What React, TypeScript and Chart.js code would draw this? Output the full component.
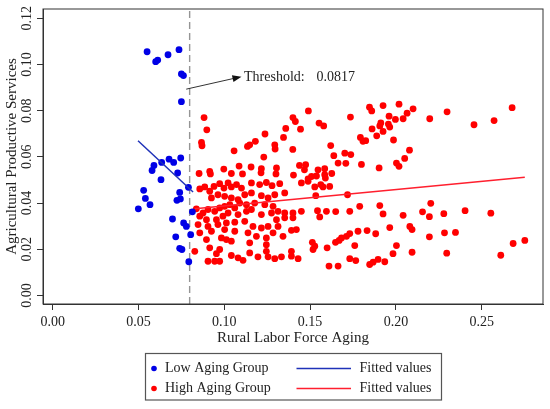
import React, { useEffect, useRef } from 'react';
import { Chart, registerables } from 'chart.js';
Chart.register(...registerables);

// values
const lowX = [
  0.0550, 0.0600, 0.0612, 0.0672, 0.0736, 0.0750, 0.0762, 0.0750, 0.0678, 0.0705,
  0.0746, 0.0590, 0.0635, 0.0579, 0.0728, 0.0631, 0.0530, 0.0740, 0.0791, 0.0540,
  0.0724, 0.0744, 0.0567, 0.0499, 0.0814, 0.0698, 0.0763, 0.0779, 0.0804, 0.0717,
  0.0740, 0.0753, 0.0793,
];
const lowY = [
  0.1055, 0.1012, 0.1019, 0.1042, 0.1064, 0.0959, 0.0952, 0.0839, 0.0590, 0.0576,
  0.0595, 0.0563, 0.0576, 0.0541, 0.0530, 0.0501, 0.0455, 0.0446, 0.0468, 0.0420,
  0.0412, 0.0418, 0.0393, 0.0375, 0.0362, 0.0331, 0.0314, 0.0299, 0.0263, 0.0254,
  0.0204, 0.0199, 0.0146,
];

const highX = [
  0.0882, 0.0898, 0.0867, 0.0870, 0.1057, 0.1135, 0.1148, 0.1181, 0.1237, 0.1230,
  0.1294, 0.1296, 0.1345, 0.1358, 0.1400, 0.1414, 0.1444, 0.1399, 0.0853, 0.0915,
  0.0919, 0.0997, 0.1041, 0.1086, 0.1106, 0.1156, 0.1216, 0.1214, 0.1304, 0.1301,
  0.1403, 0.1438, 0.1467, 0.1490, 0.1552, 0.1579, 0.1735, 0.1846, 0.1859, 0.1925,
  0.2018, 0.2065, 0.2100, 0.2042, 0.1997, 0.1960, 0.1912, 0.1906, 0.1956, 0.1964,
  0.1925, 0.1861, 0.1888, 0.1793, 0.1808, 0.1824, 0.1986, 0.1620, 0.1638, 0.1702,
  0.1737, 0.1663, 0.1708, 0.1799, 0.1902, 0.2003, 0.2018, 0.2051, 0.2079, 0.1474,
  0.1546, 0.1585, 0.1585, 0.1626, 0.1508, 0.1537, 0.1589, 0.1488, 0.2197, 0.2298,
  0.2455, 0.2572, 0.2677, 0.2203, 0.2155, 0.2195, 0.2279, 0.2403, 0.2553, 0.2195,
  0.2283, 0.2347, 0.2296, 0.2611, 0.2683, 0.2751, 0.1789, 0.1906, 0.1925, 0.2042,
  0.1543, 0.1556, 0.1595, 0.1649, 0.1731, 0.1964, 0.2081, 0.2094, 0.1882, 0.1832,
  0.1779, 0.1731, 0.1712, 0.1683, 0.1669, 0.1648, 0.1513, 0.1517, 0.1599, 0.1760,
  0.2003, 0.1983, 0.2094, 0.1731, 0.1766, 0.1610, 0.1663, 0.1847, 0.1867, 0.1896,
  0.1935, 0.1527, 0.1449, 0.1488, 0.1527, 0.1562, 0.1575, 0.1614, 0.1533, 0.1718,
  0.0857, 0.0886, 0.0915, 0.0940, 0.0973, 0.0998, 0.1022, 0.1041, 0.1071, 0.1100,
  0.1158, 0.1206, 0.1245, 0.1278, 0.1323, 0.1352, 0.1294, 0.1255, 0.1216, 0.1158,
  0.1119, 0.1080, 0.1041, 0.1002, 0.0963, 0.0925, 0.0837, 0.0876, 0.0905, 0.0944,
  0.0973, 0.1002, 0.1032, 0.1061, 0.1090, 0.1129, 0.1177, 0.1236, 0.1284, 0.1313,
  0.1352, 0.1400, 0.1449, 0.0857, 0.0896, 0.0954, 0.0992, 0.1022, 0.1080, 0.1129,
  0.1158, 0.1216, 0.1275, 0.1304, 0.1352, 0.1400, 0.0847, 0.0905, 0.0963, 0.1012,
  0.1061, 0.1119, 0.1167, 0.1216, 0.1255, 0.1313, 0.0857, 0.0925, 0.1002, 0.1061,
  0.1138, 0.1187, 0.1245, 0.1284, 0.1391, 0.1420, 0.0896, 0.0983, 0.1012, 0.1041,
  0.1148, 0.1245, 0.1342, 0.0915, 0.0828, 0.0973, 0.0954, 0.1041, 0.1080, 0.1109,
  0.1148, 0.1196, 0.1245, 0.1255, 0.1294, 0.1333, 0.1391, 0.1391, 0.1430, 0.0905,
  0.0944, 0.0973,
];
const highY = [
  0.0770, 0.0717, 0.0662, 0.0648, 0.0626, 0.0645, 0.0652, 0.0667, 0.0699, 0.0599,
  0.0652, 0.0634, 0.0684, 0.0723, 0.0770, 0.0753, 0.0720, 0.0632, 0.0528, 0.0537,
  0.0526, 0.0547, 0.0528, 0.0560, 0.0526, 0.0556, 0.0549, 0.0531, 0.0552, 0.0526,
  0.0521, 0.0563, 0.0544, 0.0799, 0.0746, 0.0734, 0.0772, 0.0815, 0.0799, 0.0822,
  0.0828, 0.0789, 0.0808, 0.0765, 0.0762, 0.0776, 0.0747, 0.0734, 0.0742, 0.0729,
  0.0710, 0.0721, 0.0691, 0.0684, 0.0667, 0.0670, 0.0673, 0.0649, 0.0605, 0.0616,
  0.0610, 0.0573, 0.0572, 0.0567, 0.0552, 0.0573, 0.0559, 0.0593, 0.0629, 0.0566,
  0.0544, 0.0549, 0.0523, 0.0528, 0.0515, 0.0517, 0.0508, 0.0505, 0.0765, 0.0795,
  0.0739, 0.0757, 0.0813, 0.0399, 0.0362, 0.0341, 0.0354, 0.0367, 0.0356, 0.0254,
  0.0271, 0.0273, 0.0183, 0.0174, 0.0225, 0.0238, 0.0386, 0.0389, 0.0353, 0.0347,
  0.0367, 0.0340, 0.0364, 0.0363, 0.0364, 0.0294, 0.0299, 0.0285, 0.0267, 0.0281,
  0.0278, 0.0268, 0.0256, 0.0249, 0.0238, 0.0230, 0.0230, 0.0199, 0.0206, 0.0216,
  0.0216, 0.0181, 0.0187, 0.0159, 0.0151, 0.0127, 0.0127, 0.0134, 0.0144, 0.0156,
  0.0146, 0.0213, 0.0487, 0.0494, 0.0470, 0.0480, 0.0470, 0.0472, 0.0432, 0.0436,
  0.0461, 0.0470, 0.0451, 0.0472, 0.0484, 0.0465, 0.0487, 0.0470, 0.0480, 0.0465,
  0.0487, 0.0480, 0.0489, 0.0475, 0.0484, 0.0444, 0.0436, 0.0422, 0.0432, 0.0444,
  0.0436, 0.0415, 0.0422, 0.0429, 0.0436, 0.0422, 0.0375, 0.0357, 0.0372, 0.0364,
  0.0379, 0.0386, 0.0393, 0.0379, 0.0400, 0.0393, 0.0400, 0.0393, 0.0386, 0.0364,
  0.0357, 0.0357, 0.0364, 0.0343, 0.0328, 0.0328, 0.0343, 0.0357, 0.0350, 0.0364,
  0.0372, 0.0350, 0.0357, 0.0328, 0.0336, 0.0336, 0.0307, 0.0299, 0.0307, 0.0314,
  0.0317, 0.0321, 0.0299, 0.0292, 0.0299, 0.0299, 0.0271, 0.0278, 0.0285, 0.0278,
  0.0271, 0.0256, 0.0249, 0.0271, 0.0282, 0.0285, 0.0242, 0.0249, 0.0242, 0.0235,
  0.0228, 0.0220, 0.0256, 0.0206, 0.0191, 0.0199, 0.0181, 0.0173, 0.0163, 0.0152,
  0.0184, 0.0167, 0.0191, 0.0167, 0.0159, 0.0167, 0.0191, 0.0170, 0.0159, 0.0148,
  0.0148, 0.0148,
];

const fitLowX = [0.0497, 0.0818];
const fitLowY = [0.0670, 0.0448];
const fitHighX = [0.0828, 0.2751];
const fitHighY = [0.0375, 0.0512];

const thresholdX = 0.0798;
const thresholdText = 'Threshold:';
const thresholdValue = '0.0817';

const xTicks = [0, 0.05, 0.1, 0.15, 0.2, 0.25];
const yTicks = [0, 0.02, 0.04, 0.06, 0.08, 0.1, 0.12];
const xRange = [-0.00565, 0.2857];
const yRange = [-0.0037, 0.124];

const legendLabels = ['Low Aging Group', 'High Aging Group', 'Fitted values', 'Fitted values'];

const FONT = '"Liberation Serif", "Times New Roman", serif';
const BLUE = '#0000e6';
const RED = '#ff0000';
const BLUE_LINE = '#1f32b8';
const RED_LINE = '#ff1f2e';

const toPoints = (xs: number[], ys: number[]) => xs.map((x, i) => ({ x, y: ys[i] }));

// frame, rotated y tick labels, threshold arrow and the boxed legend
const decorations = {
  id: 'decorations',
  afterDraw(chart: any) {
    const { ctx, chartArea: a, scales } = chart;
    const sx = scales.x;
    const sy = scales.y;
    ctx.save();

    ctx.strokeStyle = '#333';
    ctx.lineWidth = 1;
    ctx.strokeRect(a.left, a.top, a.right - a.left, a.bottom - a.top);

    ctx.fillStyle = '#222';
    ctx.font = `14px ${FONT}`;
    ctx.textAlign = 'center';
    ctx.textBaseline = 'middle';
    yTicks.forEach((v) => {
      ctx.save();
      ctx.translate(27.5, sy.getPixelForValue(v));
      ctx.rotate(-Math.PI / 2);
      ctx.fillText(v.toFixed(2), 0, 0);
      ctx.restore();
    });

    // arrow pointing at the threshold label
    const x0 = sx.getPixelForValue(0.0778);
    const y0 = sy.getPixelForValue(0.0893);
    const x1 = sx.getPixelForValue(0.110);
    const y1 = sy.getPixelForValue(0.0947);
    const ang = Math.atan2(y1 - y0, x1 - x0);
    ctx.strokeStyle = '#333';
    ctx.lineWidth = 1;
    ctx.beginPath();
    ctx.moveTo(x0, y0);
    ctx.lineTo(x1 - 7 * Math.cos(ang), y1 - 7 * Math.sin(ang));
    ctx.stroke();
    ctx.fillStyle = '#111';
    ctx.beginPath();
    ctx.moveTo(x1, y1);
    ctx.lineTo(x1 - 9 * Math.cos(ang) + 3.5 * Math.sin(ang), y1 - 9 * Math.sin(ang) - 3.5 * Math.cos(ang));
    ctx.lineTo(x1 - 9 * Math.cos(ang) - 3.5 * Math.sin(ang), y1 - 9 * Math.sin(ang) + 3.5 * Math.cos(ang));
    ctx.closePath();
    ctx.fill();

    ctx.fillStyle = '#222';
    ctx.font = `14px ${FONT}`;
    ctx.textAlign = 'left';
    ctx.fillText(thresholdText, sx.getPixelForValue(0.1115), sy.getPixelForValue(0.0945));
    ctx.fillText(thresholdValue, sx.getPixelForValue(0.1537), sy.getPixelForValue(0.0945));

    // legend
    ctx.strokeStyle = '#555';
    ctx.lineWidth = 1.2;
    ctx.strokeRect(145.5, 353.5, 296, 46.5);
    const rows = [368.5, 388.5];
    ctx.font = `14px ${FONT}`;
    ctx.fillStyle = BLUE;
    ctx.beginPath();
    ctx.arc(154, rows[0], 2.8, 0, Math.PI * 2);
    ctx.fill();
    ctx.fillStyle = RED;
    ctx.beginPath();
    ctx.arc(154, rows[1], 2.8, 0, Math.PI * 2);
    ctx.fill();
    ctx.lineWidth = 1.5;
    ctx.strokeStyle = BLUE_LINE;
    ctx.beginPath();
    ctx.moveTo(296.5, rows[0]);
    ctx.lineTo(351, rows[0]);
    ctx.stroke();
    ctx.strokeStyle = RED_LINE;
    ctx.beginPath();
    ctx.moveTo(296.5, rows[1]);
    ctx.lineTo(351, rows[1]);
    ctx.stroke();
    ctx.fillStyle = '#222';
    ctx.fillText(legendLabels[0], 165, rows[0]);
    ctx.fillText(legendLabels[1], 165, rows[1]);
    ctx.fillText(legendLabels[2], 359.5, rows[0]);
    ctx.fillText(legendLabels[3], 359.5, rows[1]);

    ctx.restore();
  },
};

const App: React.FC = () => {
  const chartRef = useRef<HTMLCanvasElement>(null);
  const chartInstance = useRef<Chart | null>(null);

  useEffect(() => {
    if (!chartRef.current) return;
    const ctx = chartRef.current.getContext('2d');
    if (!ctx) return;
    if (chartInstance.current) chartInstance.current.destroy();

    const axisGrid = {
      display: true,
      drawOnChartArea: false,
      drawTicks: true,
      tickLength: 6,
      color: '#333',
    };

    chartInstance.current = new Chart(ctx, {
      type: 'scatter',
      data: {
        datasets: [
          {
            type: 'line',
            data: toPoints(fitLowX, fitLowY),
            borderColor: BLUE_LINE,
            borderWidth: 1.5,
            pointRadius: 0,
            order: 0,
          },
          {
            type: 'line',
            data: toPoints(fitHighX, fitHighY),
            borderColor: RED_LINE,
            borderWidth: 1.5,
            pointRadius: 0,
            order: 0,
          },
          {
            data: toPoints(lowX, lowY),
            backgroundColor: BLUE,
            borderWidth: 0,
            pointRadius: 3.4,
            order: 1,
          },
          {
            data: toPoints(highX, highY),
            backgroundColor: RED,
            borderWidth: 0,
            pointRadius: 3.4,
            order: 1,
          },
          {
            type: 'line',
            data: [
              { x: thresholdX, y: yRange[0] },
              { x: thresholdX, y: yRange[1] },
            ],
            borderColor: '#959595',
            borderWidth: 1.4,
            borderDash: [7, 4],
            pointRadius: 0,
            order: 2,
          },
        ],
      } as any,
      options: {
        animation: false,
        responsive: false,
        layout: { padding: { left: 0, top: 9, right: 7, bottom: 59 } },
        plugins: { legend: { display: false }, tooltip: { enabled: false } },
        scales: {
          x: {
            type: 'linear',
            min: xRange[0],
            max: xRange[1],
            afterBuildTicks: (s: any) => {
              s.ticks = xTicks.map((value) => ({ value }));
            },
            afterFit: (s: any) => {
              s.height = 46;
            },
            grid: axisGrid,
            border: { display: true, color: '#333' },
            ticks: {
              padding: 4,
              color: '#222',
              maxRotation: 0,
              autoSkip: false,
              font: { family: FONT, size: 14 },
              callback: (v: any) => Number(v).toFixed(2),
            },
            title: {
              display: true,
              text: 'Rural Labor Force Aging',
              color: '#222',
              font: { family: FONT, size: 15 },
              padding: { top: 0, bottom: 3 },
            },
          },
          y: {
            type: 'linear',
            min: yRange[0],
            max: yRange[1],
            afterBuildTicks: (s: any) => {
              s.ticks = yTicks.map((value) => ({ value }));
            },
            afterFit: (s: any) => {
              s.width = 43;
            },
            grid: axisGrid,
            border: { display: true, color: '#333' },
            ticks: { display: false },
            title: {
              display: true,
              text: 'Agricultural Productive Services',
              color: '#222',
              font: { family: FONT, size: 15 },
              padding: { top: 3, bottom: 0 },
            },
          },
        },
      } as any,
      plugins: [decorations],
    });

    return () => {
      if (chartInstance.current) {
        chartInstance.current.destroy();
        chartInstance.current = null;
      }
    };
  }, []);

  return (
    <div style={{ position: 'fixed', left: 0, top: 0, width: 550, height: 409, background: '#fff' }}>
      <canvas ref={chartRef} width={550} height={409}></canvas>
    </div>
  );
};

export default App;
